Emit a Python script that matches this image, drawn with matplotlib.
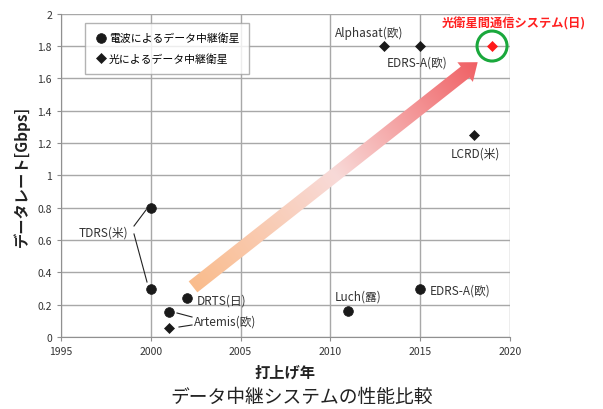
import numpy as np
import matplotlib
matplotlib.use("Agg")
import matplotlib.pyplot as plt
from matplotlib.patches import Polygon, Circle

plt.rcParams['font.family'] = ['Noto Sans CJK JP', 'DejaVu Sans']

# data
radio_years = [2000, 2000, 2002, 2001, 2011, 2015]
radio_rates = [0.80, 0.30, 0.24, 0.155, 0.16, 0.30]
optical_years = [2001, 2013, 2015, 2018]
optical_rates = [0.055, 1.80, 1.80, 1.25]
new_year = [2019]
new_rate = [1.80]
xticks = [1995, 2000, 2005, 2010, 2015, 2020]
yticks = [0, 0.2, 0.4, 0.6, 0.8, 1, 1.2, 1.4, 1.6, 1.8, 2]

W, H = 603, 410
fig = plt.figure(figsize=(W / 100, H / 100), dpi=100)
ax = fig.add_axes([61 / W, 1 - 338 / H, (510 - 61) / W, (338 - 14.7) / H])
ax.set_xlim(1995, 2020)
ax.set_ylim(0, 2)
ax.set_xticks(xticks)
ax.set_yticks(yticks)
ax.set_yticklabels(['0', '0.2', '0.4', '0.6', '0.8', '1', '1.2', '1.4', '1.6', '1.8', '2'])
ax.grid(True, color='#a8a8a8', linewidth=1.0)
ax.set_axisbelow(True)
for s in ['top', 'right']:
    ax.spines[s].set_visible(False)
for s in ['left', 'bottom']:
    ax.spines[s].set_color('#909090')
ax.tick_params(colors='#909090', labelcolor='#333333', labelsize=7.5, length=3)

ax.plot(radio_years, radio_rates, 'o', color='#1a1a1a', ms=7, mew=0.5,
        label='電波によるデータ中継衛星', zorder=5)
ax.plot(optical_years, optical_rates, 'D', color='#1a1a1a', ms=4.8, mew=0.5,
        label='光によるデータ中継衛星', zorder=5)
ax.plot(new_year, new_rate, 'D', color='#ff1a1a', ms=4.8, mew=0.5, zorder=6)

leg = ax.legend(loc='upper left', bbox_to_anchor=((85 - 61) / 449, 1 - (24 - 14.7) / 323.3),
                frameon=True, fancybox=False, fontsize=7.8, handletextpad=0.1,
                borderpad=0.9, labelspacing=0.9, handlelength=1.2, borderaxespad=0)
leg.get_frame().set_edgecolor('#a0a0a0')
leg.get_frame().set_linewidth(1.0)

# overlay in pixel coordinates for annotations
ov = fig.add_axes([0, 0, 1, 1], facecolor='none')
ov.set_xlim(0, W)
ov.set_ylim(H, 0)
ov.axis('off')

def px(x, y):
    d = ax.transData.transform((x, y))
    return ov.transData.inverted().transform(d)

tc = '#333333'
fs = 8.5
ov.text(103, 233, 'TDRS(米)', fontsize=fs, color=tc, ha='center', va='center')
ov.plot([134, 146], [227, 211], color='#222222', lw=0.8)
ov.plot([134, 147], [235, 283], color='#222222', lw=0.8)
ov.text(197, 301, 'DRTS(日)', fontsize=fs, color=tc, ha='left', va='center')
ov.text(194, 322, 'Artemis(欧)', fontsize=fs, color=tc, ha='left', va='center')
ov.plot([177, 192], [314, 318], color='#222222', lw=0.8)
ov.plot([179, 192], [328, 326], color='#222222', lw=0.8)
ov.text(335, 297, 'Luch(露)', fontsize=fs, color=tc, ha='left', va='center')
ov.text(430, 291, 'EDRS-A(欧)', fontsize=fs, color=tc, ha='left', va='center')
ov.text(335, 33, 'Alphasat(欧)', fontsize=fs, color=tc, ha='left', va='center')
ov.text(387, 63, 'EDRS-A(欧)', fontsize=fs, color=tc, ha='left', va='center')
ov.text(451, 154, 'LCRD(米)', fontsize=fs, color=tc, ha='left', va='center')
ov.text(514, 24, '光衛星間通信システム(日)', fontsize=8.8, color='#ff2020',
        ha='center', va='center', fontweight='bold')

# green circle around new system
cx, cy = px(new_year[0], new_rate[0])
ov.add_patch(Circle((cx, cy), 15, fill=False, edgecolor='#1aa83c', lw=2.2, zorder=7))

# gradient arrow
tail = np.array(px(2002.35, 0.31))
tip = np.array(px(2018.2, 1.70))
d = tip - tail
L = np.hypot(*d)
u = d / L
n = np.array([-u[1], u[0]])
hw, headw, headl = 7.0, 12.5, 16.0
base = tip - u * headl
poly = [tail + n * hw, base + n * hw, base + n * headw, tip,
        base - n * headw, base - n * hw, tail - n * hw]
patch = Polygon(poly, closed=True, facecolor='none', edgecolor='none')
ov.add_patch(patch)
gx, gy = np.meshgrid(np.linspace(0, W, 604), np.linspace(0, H, 411))
t = ((gx - tail[0]) * u[0] + (gy - tail[1]) * u[1]) / L
t = np.clip(t, 0, 1)
c0 = np.array([250, 188, 140]) / 255
c1 = np.array([248, 218, 216]) / 255
c2 = np.array([240, 96, 100]) / 255
s = (t / 0.5)[..., None]
img = np.where((t < 0.5)[..., None], c0 + (c1 - c0) * s,
               c1 + (c2 - c1) * ((t - 0.5) / 0.5)[..., None])
im = ov.imshow(img, extent=(0, W, H, 0), origin='upper', zorder=4, aspect='auto')
im.set_clip_path(patch)
ov.set_xlim(0, W)
ov.set_ylim(H, 0)

fig.text(285 / W, 1 - 373 / H, '打上げ年', fontsize=11, fontweight='bold',
         ha='center', va='center', color='#222222')
fig.text(22 / W, 1 - 176 / H, 'データレート[Gbps]', fontsize=11, fontweight='bold',
         ha='center', va='center', rotation=90, color='#222222')
fig.text(302 / W, 1 - 397 / H, 'データ中継システムの性能比較', fontsize=13.5,
         ha='center', va='center', color='#222222')

fig.savefig('out.png', dpi=100)
